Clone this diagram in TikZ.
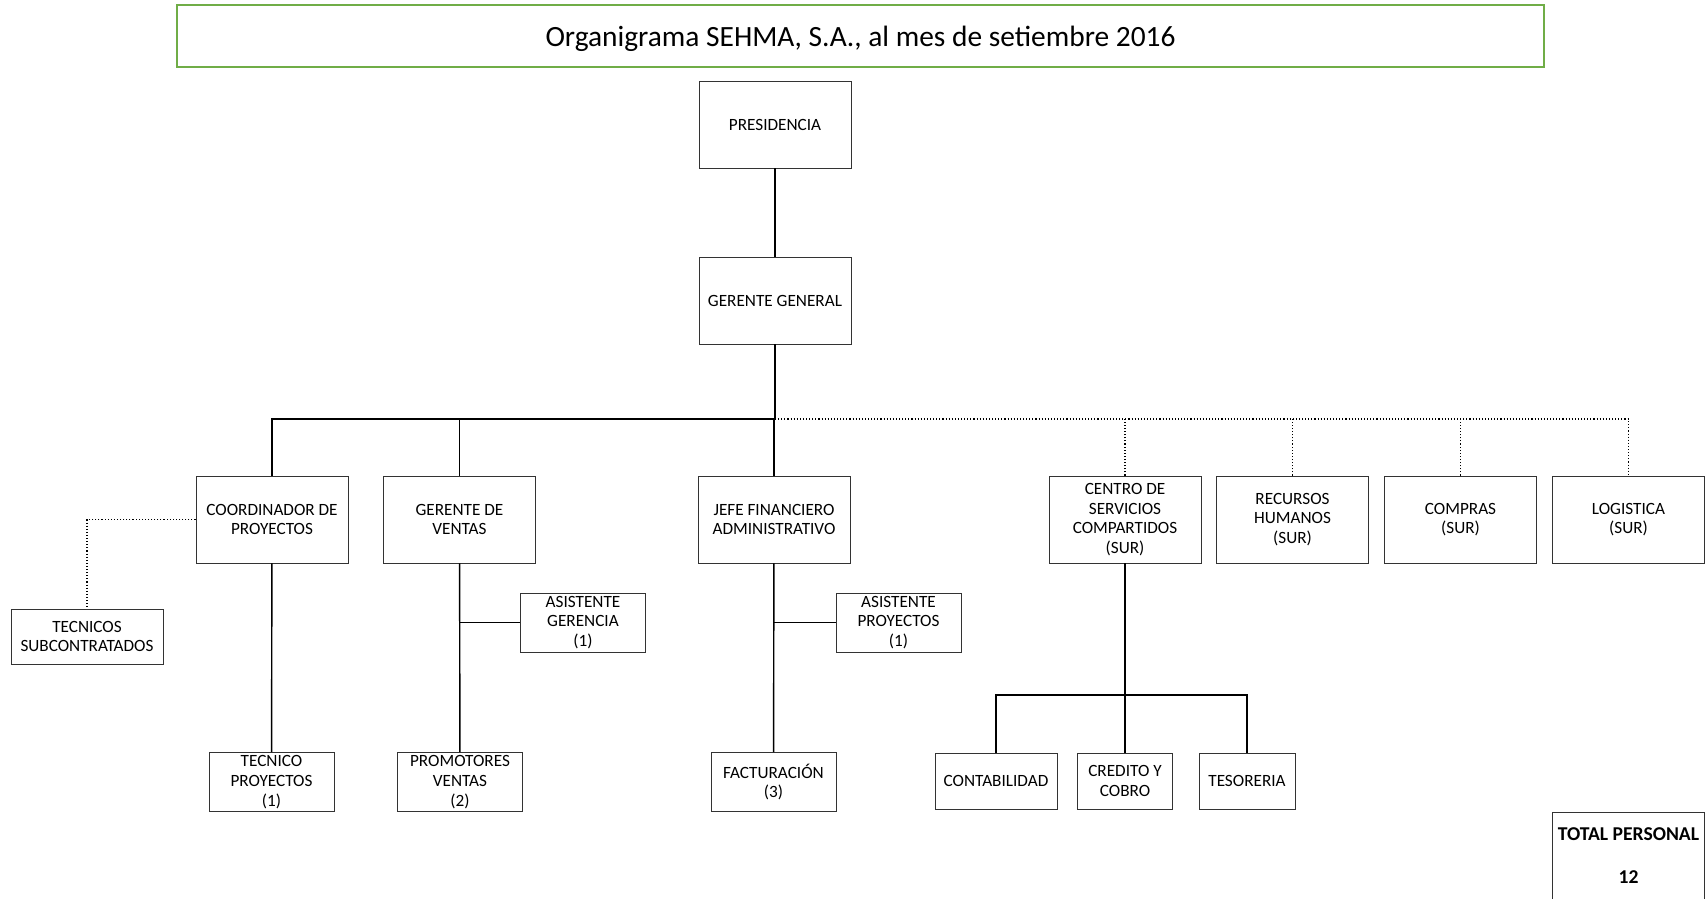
\documentclass[tikz,border=0pt]{standalone}
\usepackage{fontspec}
\setmainfont{Carlito}
\usepackage{tikz}

\definecolor{titlegreen}{RGB}{112,173,71}

\begin{document}
\begin{tikzpicture}[x=1pt,y=-1pt]
	\tikzstyle{unit}=[draw=black!80,line width=0.9pt,rectangle,align=center,inner sep=2pt,font=\fontsize{17.2}{19.6}\selectfont]
	\tikzstyle{big unit}=[unit,minimum width=152pt,minimum height=87pt]
	\tikzstyle{small unit}=[unit,minimum width=125pt,minimum height=59pt]
	\tikzstyle{sub unit}=[unit,minimum height=56pt]
	\tikzstyle{edge}=[draw,line width=1.4pt,-,black]
	\tikzstyle{dotted edge}=[draw,line width=1.1pt,dotted,black]
	
	\useasboundingbox (0,0) rectangle (1707,898);
	
	\node[draw=titlegreen,line width=2.5pt,minimum width=1367pt,minimum height=62pt,text height=24pt,text depth=3pt,font=\fontsize{29.4}{34}\selectfont] (title) at (860.5,36) {Organigrama SEHMA, S.A., al mes de setiembre 2016};
	
	\node[big unit] (pres) at (775,124.5) {PRESIDENCIA};
	\node[big unit] (gg) at (775,300.5) {GERENTE GENERAL};
	\coordinate (bus) at (775,419);
	
	\node[big unit] (coord) at (272,519.5) {COORDINADOR DE\\PROYECTOS};
	\node[big unit] (ventas) at (459.5,519.5) {GERENTE DE\\VENTAS};
	\node[big unit] (jefe) at (774,519.5) {JEFE FINANCIERO\\ADMINISTRATIVO};
	\node[big unit] (centro) at (1125,519.5) {CENTRO DE\\SERVICIOS\\COMPARTIDOS\\(SUR)};
	\node[big unit] (rrhh) at (1292.5,519.5) {RECURSOS\\HUMANOS\\(SUR)};
	\node[big unit] (compras) at (1460.5,519.5) {COMPRAS\\(SUR)};
	\node[big unit] (logist) at (1628.5,519.5) {LOGISTICA\\(SUR)};
	
	\node[unit,minimum width=152pt,minimum height=55pt] (tecsub) at (87,636.5) {TECNICOS\\SUBCONTRATADOS};
	\node[small unit] (asger) at (583,622.5) {ASISTENTE\\GERENCIA\\(1)};
	\node[small unit] (aspro) at (898.5,622.5) {ASISTENTE\\PROYECTOS\\(1)};
	
	\node[small unit] (tecpro) at (271.5,782) {TECNICO\\PROYECTOS\\(1)};
	\node[small unit] (prom) at (460,782) {PROMOTORES\\VENTAS\\(2)};
	\node[small unit] (fact) at (773.5,782) {FACTURACIÓN\\(3)};
	
	\coordinate (cbus) at (1125,695);
	\node[sub unit,minimum width=122pt] (cont) at (996,781) {CONTABILIDAD};
	\node[sub unit,minimum width=95pt] (cred) at (1125,781) {CREDITO Y\\COBRO};
	\node[sub unit,minimum width=96pt] (teso) at (1247,781) {TESORERIA};
	
	\node[unit,minimum width=152pt,minimum height=87pt,font=\fontsize{19.6}{43}\bfseries] (total) at (1628.5,855.5) {TOTAL PERSONAL\\12};
	
	\draw[edge] (pres) -- (gg);
	\draw[edge] (gg) -- (bus);
	\draw[edge] (coord) |- (bus);
	\draw[edge] (ventas) -- (ventas |- bus);
	\draw[edge] (jefe) -- (jefe |- bus);
	
	\draw[dotted edge] (bus) -| (logist);
	\draw[dotted edge] (centro) -- (centro |- bus);
	\draw[dotted edge] (rrhh) -- (rrhh |- bus);
	\draw[dotted edge] (compras) -- (compras |- bus);
	\draw[dotted edge] (coord) -| (tecsub);
	
	\draw[edge] (coord) -- (tecpro);
	\draw[edge] (ventas) -- (prom);
	\draw[edge] (asger) -- (asger -| ventas);
	\draw[edge] (jefe) -- (fact);
	\draw[edge] (aspro) -- (aspro -| jefe);
	
	\draw[edge] (centro) -- (cbus);
	\draw[edge] (cont) |- (cbus);
	\draw[edge] (teso) |- (cbus);
	\draw[edge] (cred) -- (cbus);
\end{tikzpicture}
\end{document}
